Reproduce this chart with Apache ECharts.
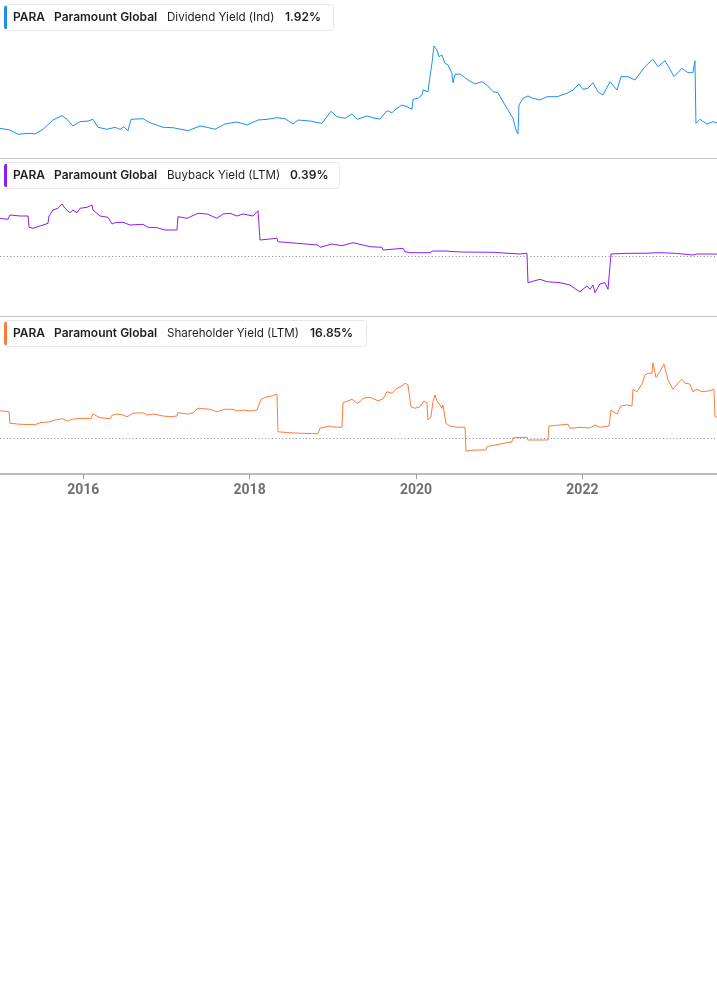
<!DOCTYPE html>
<html>
<head>
<meta charset="utf-8">
<script src="https://cdn.jsdelivr.net/npm/echarts@6/dist/echarts.min.js"></script>
<style>
  html, body { margin: 0; padding: 0; background: #fff; }
  #chart { width: 717px; height: 1005px; }
</style>
</head>
<body>
<div id="chart"></div>
<script>
// ---- Data (dates as decimal years, values in %) ----
const divDates = [2015.000,2015.120,2015.216,2015.361,2015.421,2015.517,2015.637,2015.745,2015.805,2015.877,2015.962,
  2016.058,2016.118,2016.178,2016.286,2016.382,2016.442,2016.490,2016.538,2016.574,2016.719,2016.803,2016.959,
  2017.079,2017.260,2017.404,2017.488,2017.584,2017.704,2017.849,2017.969,
  2018.101,2018.209,2018.329,2018.425,2018.522,2018.582,2018.726,2018.822,2018.870,2018.978,
  2019.050,2019.147,2019.231,2019.291,2019.411,2019.507,2019.567,2019.651,2019.711,2019.772,2019.832,2019.892,2019.952,2019.964,
  2020.024,2020.072,2020.084,2020.144,2020.168,2020.192,2020.216,2020.252,2020.276,2020.312,2020.348,2020.385,2020.433,2020.445,2020.469,2020.529,2020.613,2020.709,2020.793,2020.865,2020.925,2020.985,
  2021.070,2021.130,2021.166,2021.202,2021.226,2021.238,2021.286,2021.346,2021.406,2021.490,2021.574,2021.695,2021.815,2021.887,2021.959,
  2022.007,2022.067,2022.127,2022.187,2022.247,2022.332,2022.416,2022.464,2022.548,2022.632,2022.692,2022.752,2022.848,2022.908,2022.993,
  2023.053,2023.101,2023.197,2023.269,2023.329,2023.353,2023.365,2023.413,2023.497,2023.569,2023.618];
const divValues = [1.37,1.20,0.77,0.87,0.80,1.27,2.20,2.63,2.27,1.60,2.03,
  2.10,2.27,1.47,1.27,1.47,1.27,1.53,1.10,2.27,2.33,1.93,1.47,
  1.43,1.13,1.60,1.47,1.27,1.80,2.00,1.70,
  2.20,2.27,2.43,2.33,1.80,2.20,2.10,1.93,1.87,3.07,
  2.53,2.37,2.80,2.27,2.60,2.37,2.30,3.13,2.93,3.37,3.70,3.53,3.27,4.27,
  4.37,4.70,5.20,5.03,6.53,7.87,9.60,9.20,8.53,8.70,7.87,7.70,6.87,5.93,6.77,6.80,6.27,5.80,6.03,5.60,5.03,4.93,
  3.70,2.87,2.37,1.20,0.80,3.70,4.37,4.60,4.37,4.20,4.53,4.53,4.87,5.20,5.80,
  5.27,5.37,5.93,5.03,4.70,6.03,5.20,6.53,6.53,6.20,6.87,7.53,8.27,7.53,8.13,
  7.27,6.53,7.37,6.93,6.93,8.13,1.87,2.27,1.80,2.03,1.92];

const buyDates = [2015.000,2015.096,2015.120,2015.240,2015.337,2015.349,2015.397,2015.481,2015.577,2015.589,2015.637,2015.697,2015.745,2015.781,2015.841,2015.877,2015.925,2015.962,
  2016.046,2016.106,2016.118,2016.202,2016.298,2016.346,2016.382,2016.478,2016.562,2016.719,2016.779,2016.887,2016.983,
  2017.127,2017.139,2017.248,2017.380,2017.488,2017.608,2017.680,2017.764,2017.849,2017.921,
  2018.041,2018.101,2018.125,2018.209,2018.329,2018.341,2018.570,2018.582,2018.822,2018.846,2018.990,
  2019.110,2019.243,2019.327,2019.447,2019.591,2019.603,2019.844,2019.868,2019.928,
  2020.168,2020.204,2020.348,2020.529,2020.925,
  2021.250,2021.334,2021.346,2021.490,2021.574,2021.731,2021.851,2021.935,2021.971,
  2022.055,2022.091,2022.127,2022.151,2022.211,2022.271,2022.308,2022.332,2022.344,2022.536,2022.728,2022.933,
  2023.113,2023.137,2023.329,2023.377,2023.618];
const buyValues = [7.54,7.34,8.20,8.00,8.00,5.74,5.54,6.00,6.54,8.00,9.20,9.54,10.40,9.54,8.66,9.20,8.66,9.54,
  9.74,10.20,9.20,8.00,7.74,6.40,6.66,6.74,6.20,6.34,5.74,5.66,5.20,
  5.20,7.86,7.54,8.54,8.40,7.54,8.40,8.54,8.00,8.40,
  8.00,9.06,3.20,3.34,3.54,2.86,2.54,2.40,2.20,1.74,2.40,
  2.06,2.66,2.34,1.86,1.74,1.20,1.54,0.86,0.66,
  0.66,1.00,1.00,0.80,0.74,
  0.40,0.54,-5.34,-4.66,-5.14,-5.34,-5.80,-6.80,-7.14,
  -6.00,-6.66,-5.80,-7.34,-5.60,-5.34,-6.66,-6.80,0.40,0.54,0.54,0.66,
  0.54,0.20,0.20,0.40,0.39];

const shyDates = [2015.000,2015.108,2015.120,2015.240,2015.421,2015.481,2015.601,2015.661,2015.745,2015.817,2015.865,2015.962,
  2016.094,2016.118,2016.202,2016.322,2016.346,2016.406,2016.478,2016.526,2016.599,2016.719,2016.767,2016.851,2016.959,
  2017.043,2017.127,2017.139,2017.260,2017.320,2017.380,2017.524,2017.608,2017.704,2017.800,2017.849,2017.921,
  2018.005,2018.089,2018.113,2018.137,2018.209,2018.269,2018.329,2018.341,2018.486,2018.606,2018.822,2018.846,2018.966,
  2019.002,2019.110,2019.123,2019.231,2019.291,2019.327,2019.363,2019.447,2019.543,2019.603,2019.651,2019.711,2019.772,2019.832,2019.868,2019.904,2019.928,2019.940,2019.988,
  2020.048,2020.096,2020.132,2020.144,2020.180,2020.204,2020.228,2020.252,2020.288,2020.312,2020.324,2020.348,2020.360,2020.409,2020.493,2020.589,2020.601,2020.709,2020.841,2020.853,
  2021.010,2021.154,2021.166,2021.334,2021.346,2021.586,2021.598,2021.731,2021.827,2021.851,2021.971,
  2022.091,2022.151,2022.211,2022.320,2022.344,2022.368,2022.416,2022.464,2022.536,2022.596,2022.608,2022.656,2022.716,2022.752,2022.788,2022.836,2022.848,2022.884,2022.933,2022.981,
  2023.029,2023.089,2023.149,2023.197,2023.233,2023.293,2023.329,2023.377,2023.437,2023.533,2023.581,2023.594,2023.618];
const shyValues = [21.8,21.0,11.8,11.0,10.6,12.2,13.0,14.4,15.4,13.6,15.0,15.8,
  15.4,19.2,16.2,15.4,18.2,19.2,18.4,17.0,19.8,20.2,18.4,19.2,17.6,
  17.0,17.6,20.2,19.2,20.2,23.8,23.0,21.0,23.0,23.0,21.6,22.4,
  21.6,22.4,23.8,31.0,33.0,33.6,35.2,5.0,4.2,3.8,3.4,7.8,9.6,
  8.8,8.6,28.2,31.0,27.8,29.0,31.8,32.6,29.8,31.2,37.0,35.8,39.8,41.6,43.8,42.4,41.0,25.0,23.8,
  25.0,29.6,28.2,14.4,17.0,29.0,34.4,29.8,26.4,23.8,26.4,25.6,11.8,9.6,8.6,8.6,-10.4,-9.6,-9.6,-7.0,
  -4.8,-3.0,0.2,0.6,-1.6,-1.6,9.6,10.4,11.0,7.8,8.6,
  8.0,10.4,8.6,9.6,22.4,23.8,19.2,25.6,26.4,25.6,39.0,37.0,43.2,50.4,51.8,51.8,60.2,48.6,53.0,59.2,
  46.4,39.0,43.8,47.0,43.8,43.2,37.0,39.0,37.0,37.8,39.0,17.0,16.85];

const yearTicks = [2016, 2018, 2020, 2022];
const tickerText = 'PARA';
const companyText = 'Paramount Global';
const metricNames = ['Dividend Yield (Ind)', 'Buyback Yield (LTM)', 'Shareholder Yield (LTM)'];
const lastValues = ['1.92%', '0.39%', '16.85%'];

// ---- Styling / layout ----
const colors = ['#1f8ef1', '#8a1ff5', '#ff7a3a'];
const xMin = 2015, xMax = 2023.618;
const grids = [
  { left: 0, right: 0, top: 40, height: 110 },
  { left: 0, right: 0, top: 195, height: 105 },
  { left: 0, right: 0, top: 350, height: 124 }
];
const yRanges = [[-0.8, 10.2], [-8.8, 12.2], [-28.8, 70.4]];
const boxTops = [4, 162, 320];
const boxWidths = [329, 335, 362];
const valueX = [285, 290, 310];

function zip(a, b) { return a.map((d, i) => [d, b[i]]); }
const seriesData = [zip(divDates, divValues), zip(buyDates, buyValues), zip(shyDates, shyValues)];

const chart = echarts.init(document.getElementById('chart'), null, { renderer: 'canvas' });

const xAxes = grids.map((g, i) => ({
  type: 'value', gridIndex: i, min: xMin, max: xMax,
  show: i === 2,
  splitLine: { show: false },
  axisLine: { show: i === 2, onZero: false, lineStyle: { color: '#bdbdbd', width: 2 } },
  axisTick: { show: i === 2, customValues: yearTicks, length: 5, lineStyle: { color: '#9a9a9a', width: 1 } },
  axisLabel: {
    show: i === 2, customValues: yearTicks, margin: 9,
    color: '#707070', fontWeight: 'bold', fontSize: 14,
    fontFamily: 'Roboto',
    formatter: v => String(Math.round(v))
  }
}));

const yAxes = grids.map((g, i) => ({
  type: 'value', gridIndex: i, min: yRanges[i][0], max: yRanges[i][1], show: false,
  splitLine: { show: false }
}));

const series = seriesData.map((d, i) => {
  const s = {
    type: 'line', xAxisIndex: i, yAxisIndex: i, data: d,
    showSymbol: false, symbol: 'none',
    lineStyle: { color: colors[i], width: 1 },
    itemStyle: { color: colors[i] },
    animation: false, silent: true
  };
  if (i > 0) {
    s.markLine = {
      silent: true, symbol: ['none', 'none'], animation: false,
      label: { show: false },
      lineStyle: { color: '#8a8a8a', type: [1, 2.4], width: 1 },
      data: [{ yAxis: 0 }]
    };
  }
  return s;
});

const graphics = [];
// separators
[158, 316].forEach(y => {
  graphics.push({ type: 'line', shape: { x1: 0, y1: y + 0.5, x2: 717, y2: y + 0.5 }, style: { stroke: '#c8c8c8', lineWidth: 1 }, silent: true });
});
// legend boxes
boxTops.forEach((t, i) => {
  graphics.push({ type: 'rect', shape: { x: 4.5, y: t + 0.5, width: boxWidths[i], height: 26, r: 3 }, style: { fill: '#fff', stroke: '#e8e8e8', lineWidth: 1 }, z: 10 });
  graphics.push({ type: 'rect', shape: { x: 4, y: t + 2, width: 3, height: 23, r: [2, 0, 0, 2] }, style: { fill: colors[i] }, z: 11 });
  const cy = t + 13.5;
  const txt = (text, x, weight, size) => ({
    type: 'text', x: x, y: cy, z: 12,
    style: { text: text, fill: '#1f1f1f', font: weight + ' ' + size + 'px Inter', verticalAlign: 'middle', textAlign: 'left' }
  });
  graphics.push(txt(tickerText, 13, 600, 12));
  graphics.push(txt(companyText, 54, 600, 12));
  graphics.push(txt(metricNames[i], 167, 400, 11.6));
  graphics.push(txt(lastValues[i], valueX[i], 600, 12));
});

chart.setOption({
  animation: false,
  backgroundColor: '#ffffff',
  grid: grids,
  xAxis: xAxes,
  yAxis: yAxes,
  series: series,
  graphic: graphics
});
</script>
</body>
</html>
